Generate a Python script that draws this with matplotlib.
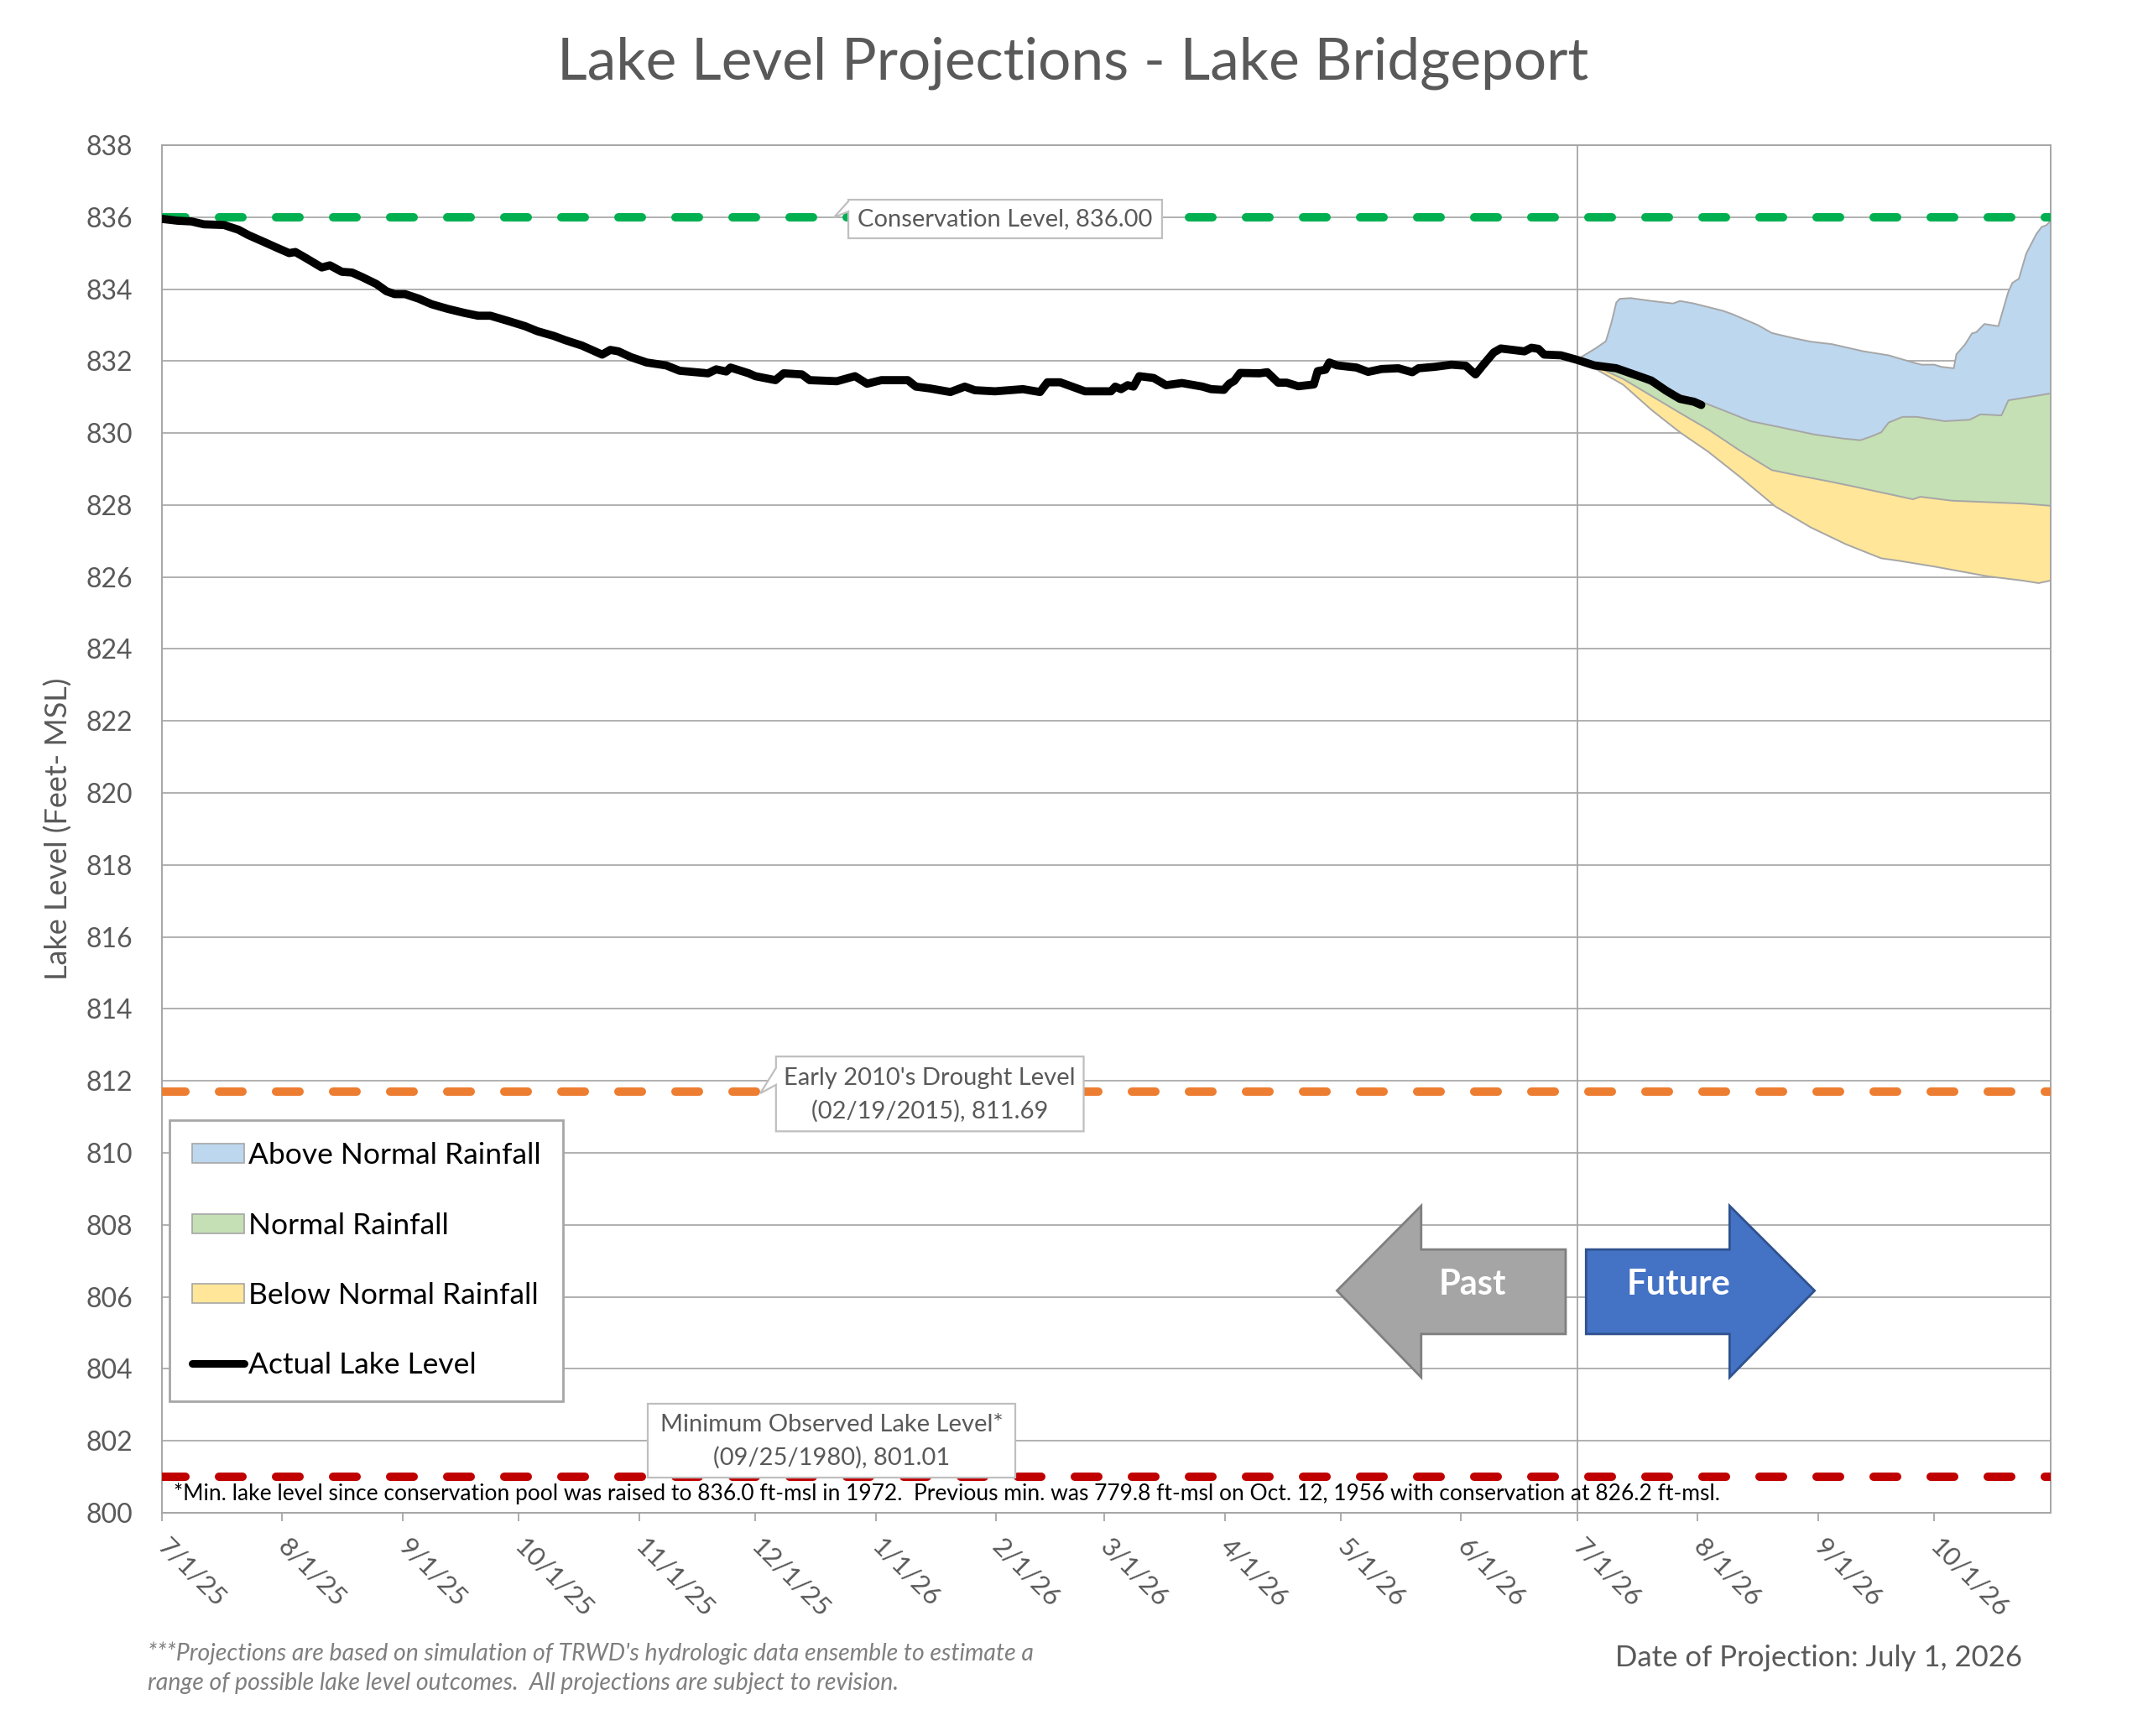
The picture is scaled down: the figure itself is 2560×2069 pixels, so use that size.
import numpy as np
import pandas as pd
import matplotlib
matplotlib.use("Agg")
import matplotlib.pyplot as plt
import matplotlib.dates as mdates
from matplotlib.patches import Patch, Polygon
from matplotlib.lines import Line2D

plt.rcParams['font.family'] = ['Lato', 'DejaVu Sans']

# ---- data ----
series_start = pd.Timestamp('2025-07-01')
proj_start = pd.Timestamp('2026-07-01')
x_end = pd.Timestamp('2026-10-31')

# actual lake level: days since 7/1/25, ft-msl
actual_day = [0, 4, 7.6, 10.8, 16, 19.7, 22.3, 26.5, 29.6, 32.8, 34.4, 37, 41.2, 43.3,
              46.4, 49, 51.7, 55.3, 57.9, 60, 62.7, 66.3, 69.5, 73.7, 77.9, 81.5, 84.7,
              89.4, 93.6, 96.8, 101, 104, 108.3, 113.5, 115.6, 117.7, 120.9, 125, 130,
              133.5, 140.8, 142.9, 145.5, 146.6, 151.3, 153, 158.2, 160.3, 165, 167, 174,
              178.7, 181.8, 185.5, 192.3, 194.4, 198, 203.3, 207, 209.6, 214.8, 222,
              226.4, 228.3, 231.6, 238, 244.7, 245.8, 247.3, 249, 250.5, 252, 255.7,
              258.9, 263, 268.3, 270.5, 273.8, 275.2, 276.5, 278, 283, 285, 287.8, 290,
              293, 297, 298, 300, 301, 303, 308, 311, 314.5, 318.8, 322.4, 324, 328.2,
              332.5, 336.2, 337.6, 338.7, 340.5, 343.4, 345.2, 351.3, 353.1, 354.9,
              356.4, 360.7, 365, 369.3, 375, 384, 387.8, 391.4, 395, 396.9]
actual_ft = [835.95, 835.9, 835.88, 835.8, 835.78, 835.65, 835.5, 835.3, 835.15, 835.0,
             835.03, 834.87, 834.6, 834.66, 834.48, 834.46, 834.33, 834.14, 833.94,
             833.86, 833.86, 833.73, 833.58, 833.45, 833.34, 833.26, 833.26, 833.11,
             832.97, 832.83, 832.7, 832.58, 832.43, 832.18, 832.31, 832.27, 832.11,
             831.96, 831.88, 831.73, 831.66, 831.77, 831.71, 831.82, 831.66, 831.58,
             831.47, 831.66, 831.63, 831.47, 831.44, 831.58, 831.37, 831.47, 831.47,
             831.29, 831.24, 831.14, 831.29, 831.19, 831.16, 831.22, 831.14, 831.41,
             831.41, 831.16, 831.16, 831.29, 831.22, 831.33, 831.29, 831.58, 831.53,
             831.33, 831.39, 831.29, 831.22, 831.2, 831.37, 831.45, 831.67, 831.66,
             831.69, 831.4, 831.4, 831.3, 831.35, 831.72, 831.76, 831.96, 831.88,
             831.82, 831.7, 831.78, 831.8, 831.69, 831.8, 831.84, 831.9, 831.87, 831.73,
             831.63, 831.87, 832.24, 832.35, 832.27, 832.37, 832.34, 832.18, 832.16,
             832.03, 831.88, 831.8, 831.46, 831.18, 830.95, 830.87, 830.78]

# projection envelopes: days since 7/1/26, ft-msl
above_day = [0, 4.6, 7.3, 8.7, 10, 10.9, 13.7, 19.1, 24.6, 26.4, 30, 37.4, 40, 46.5, 50.1,
             55.6, 60.1, 65.6, 73.8, 80.2, 86.5, 88.7, 92, 93.8, 97, 97.7, 99.9, 101.7,
             102.8, 104.9, 108.5, 111, 112.1, 113.8, 115.7, 118.3, 119.7, 120.8, 121.9]
above_ft = [832.05, 832.35, 832.55, 833.05, 833.63, 833.73, 833.75, 833.67, 833.6, 833.67,
            833.6, 833.4, 833.3, 833.0, 832.78, 832.64, 832.54, 832.47, 832.27, 832.16,
            831.96, 831.9, 831.9, 831.84, 831.8, 832.19, 832.46, 832.77, 832.8, 833.03,
            832.97, 833.9, 834.17, 834.29, 834.99, 835.53, 835.73, 835.77, 835.88]

normal_day = [0, 4.6, 10, 19.1, 25.5, 31.9, 37.4, 44.6, 51.9, 61, 68.3, 72.9, 75.6, 78.3,
              80.2, 83.8, 87.5, 94.7, 101.1, 103.9, 109.3, 111.1, 115.7, 120.3, 121.9]
normal_ft = [832.05, 831.88, 831.77, 831.34, 831.1, 830.87, 830.64, 830.33, 830.17,
             829.96, 829.85, 829.8, 829.9, 830.02, 830.29, 830.45, 830.45, 830.33,
             830.37, 830.52, 830.49, 830.91, 830.99, 831.07, 831.1]

below_day = [0, 6.4, 11.8, 19.1, 26.4, 33.7, 41.9, 50.1, 57.4, 64.7, 70.1, 78.3, 86.5,
             88.4, 96.6, 105.7, 114.8, 121.9]
below_ft = [832.05, 831.77, 831.5, 831.03, 830.56, 830.1, 829.51, 828.97, 828.81, 828.66,
            828.54, 828.35, 828.16, 828.23, 828.12, 828.08, 828.04, 827.98]

low_day = [0, 5.5, 11.8, 19.1, 26.4, 33.7, 41.9, 51, 60.1, 69.2, 78.3, 82.9, 92, 105.7,
           114.8, 118.9, 121.9]
low_ft = [832.05, 831.73, 831.34, 830.64, 830.02, 829.48, 828.78, 827.96, 827.38, 826.91,
          826.52, 826.45, 826.29, 826.02, 825.9, 825.83, 825.9]

conservation_level = 836.00
drought_level = 811.69
minimum_level = 801.01

month_labels = ['7/1/25', '8/1/25', '9/1/25', '10/1/25', '11/1/25', '12/1/25', '1/1/26',
                '2/1/26', '3/1/26', '4/1/26', '5/1/26', '6/1/26', '7/1/26', '8/1/26',
                '9/1/26', '10/1/26']

legend_labels = ['Above Normal Rainfall', 'Normal Rainfall', 'Below Normal Rainfall',
                 'Actual Lake Level']
band_colors = ['#bdd7ee', '#c5e0b4', '#ffe699']
edge_gray = '#a6a6a6'
text_gray = '#595959'


def to_num(base, days):
    return mdates.date2num(base + pd.to_timedelta(np.asarray(days, dtype=float), unit='D'))


fig = plt.figure(figsize=(25.6, 20.69), dpi=100)
ax = fig.add_axes([0.0754, 0.1286, 0.8793, 0.7878])

# projection bands
bounds = [(above_day, above_ft), (normal_day, normal_ft), (below_day, below_ft), (low_day, low_ft)]
for i, color in enumerate(band_colors):
    (td, tv), (bd, bv) = bounds[i], bounds[i + 1]
    xs = np.r_[to_num(proj_start, td), to_num(proj_start, bd)[::-1]]
    ys = np.r_[tv, bv[::-1]]
    ax.fill(xs, ys, facecolor=color, edgecolor='none', zorder=2)
for d, v in bounds:
    ax.plot(to_num(proj_start, d), v, color=edge_gray, lw=1.4, zorder=2.5)

# reference levels
ref_lines = [(conservation_level, '#00b050'), (drought_level, '#ed7d31'), (minimum_level, '#c00000')]
for lvl, c in ref_lines:
    ax.axhline(lvl, color=c, lw=7.2, dashes=(2.8, 4.0), dash_capstyle='round', zorder=3)

ax.axvline(mdates.date2num(proj_start), color=edge_gray, lw=1.3, zorder=1.5)

# actual
ax.plot(to_num(series_start, actual_day), actual_ft, color='black', lw=7,
        solid_joinstyle='round', solid_capstyle='round', zorder=4)

# axes styling
ax.set_xlim(mdates.date2num(series_start), mdates.date2num(x_end))
ax.set_ylim(800, 838)
ax.set_yticks(np.arange(800, 839, 2))
ax.grid(axis='y', color='#b0b0b0', lw=1.4)
ax.set_axisbelow(True)
for s in ax.spines.values():
    s.set_color(edge_gray)
    s.set_linewidth(1.4)

tick_dates = mdates.date2num(pd.to_datetime(month_labels, format='%m/%d/%y'))
ax.set_xticks(tick_dates)
ax.set_xticklabels(month_labels, rotation=-45, ha='left', va='center', rotation_mode='anchor')
ax.tick_params(axis='x', length=7, width=1.3, color=edge_gray, pad=19, labelsize=22.5,
               labelcolor=text_gray)
ax.tick_params(axis='y', length=0, pad=25, labelsize=23, labelcolor=text_gray)

# legend
handles = [Patch(facecolor=c, edgecolor=edge_gray, lw=1.2) for c in band_colors]
handles.append(Line2D([], [], color='black', lw=6.5, solid_capstyle='round'))
leg = ax.legend(handles, legend_labels, loc='lower left', bbox_to_anchor=(0.004, 0.0816),
                borderaxespad=0, fontsize=25.5, frameon=True, fancybox=False,
                edgecolor=edge_gray, framealpha=1, borderpad=0.75, labelspacing=1.45,
                handlelength=1.75, handleheight=0.62, handletextpad=0.15)
leg.get_frame().set_linewidth(2)
leg.set_zorder(7)


def callout(x0, x1, y0, y1, pointer=None):
    if pointer is None:
        pts = [(x0, y1), (x1, y1), (x1, y0), (x0, y0)]
    else:
        b_low, tip, b_high = pointer
        pts = [(x0, y1), (x1, y1), (x1, y0), (x0, y0), (x0, b_low), tip, (x0, b_high)]
    ax.add_patch(Polygon(pts, closed=True, transform=ax.transAxes, facecolor='white',
                         edgecolor='#bfbfbf', lw=1.6, zorder=6))


note_size = 21
callout(0.3634, 0.5295, 0.9319, 0.9601, (0.9515, (0.3558, 0.9472), 0.9589))
ax.text(0.4465, 0.9460, 'Conservation Level, 836.00', transform=ax.transAxes, ha='center',
        va='center', fontsize=note_size, color=text_gray, zorder=8)

callout(0.3251, 0.4880, 0.2789, 0.3336, (0.3129, (0.3168, 0.3067), 0.3252))
ax.text(0.4065, 0.3178, "Early 2010's Drought Level", transform=ax.transAxes, ha='center',
        va='center', fontsize=note_size, color=text_gray, zorder=8)
ax.text(0.4065, 0.2939, '(02/19/2015), 811.69', transform=ax.transAxes, ha='center',
        va='center', fontsize=note_size, color=text_gray, zorder=8)

callout(0.2572, 0.4518, 0.0260, 0.0799)
ax.text(0.3545, 0.0644, 'Minimum Observed Lake Level*', transform=ax.transAxes, ha='center',
        va='center', fontsize=note_size, color=text_gray, zorder=8)
ax.text(0.3545, 0.0405, '(09/25/1980), 801.01', transform=ax.transAxes, ha='center',
        va='center', fontsize=note_size, color=text_gray, zorder=8)

ax.text(0.0062, 0.0141, '*Min. lake level since conservation pool was raised to 836.0 ft-msl '
        'in 1972.  Previous min. was 779.8 ft-msl on Oct. 12, 1956 with conservation at '
        '826.2 ft-msl.', transform=ax.transAxes, ha='left', va='center', fontsize=19,
        color='black', zorder=8)

# past / future arrows
past = [(0.6221, 0.1624), (0.6667, 0.2244), (0.6667, 0.1925), (0.7432, 0.1925),
        (0.7432, 0.1307), (0.6667, 0.1307), (0.6667, 0.0990)]
future = [(0.7540, 0.1925), (0.8300, 0.1925), (0.8300, 0.2244), (0.8750, 0.1624),
          (0.8300, 0.0990), (0.8300, 0.1307), (0.7540, 0.1307)]
ax.add_patch(Polygon(past, closed=True, transform=ax.transAxes, facecolor='#a5a5a5',
                     edgecolor='#7f7f7f', lw=2, zorder=6))
ax.add_patch(Polygon(future, closed=True, transform=ax.transAxes, facecolor='#4472c4',
                     edgecolor='#2f528f', lw=2, zorder=6))
ax.text(0.6938, 0.1593, 'Past', transform=ax.transAxes, ha='center', va='baseline',
        fontsize=30, fontweight='bold', color='white', zorder=8)
ax.text(0.8028, 0.1593, 'Future', transform=ax.transAxes, ha='center', va='baseline',
        fontsize=30, fontweight='bold', color='white', zorder=8)

# titles and notes
fig.text(0.4996, 0.9637, 'Lake Level Projections - Lake Bridgeport', ha='center', va='center',
         fontsize=50, color=text_gray)
fig.text(0.027, 0.5225, 'Lake Level (Feet- MSL)', rotation=90, ha='center', va='center',
         fontsize=26, color=text_gray)
fig.text(0.0688, 0.0479, "***Projections are based on simulation of TRWD's hydrologic data "
         "ensemble to estimate a", ha='left', va='center', fontsize=20.5, style='italic',
         color='#7f7f7f')
fig.text(0.0688, 0.0305, 'range of possible lake level outcomes.  All projections are subject '
         'to revision.', ha='left', va='center', fontsize=20.5, style='italic', color='#7f7f7f')
fig.text(0.9414, 0.0450, 'Date of Projection: July 1, 2026', ha='right', va='center',
         fontsize=25, color=text_gray)

fig.savefig('out.png', dpi=100)
